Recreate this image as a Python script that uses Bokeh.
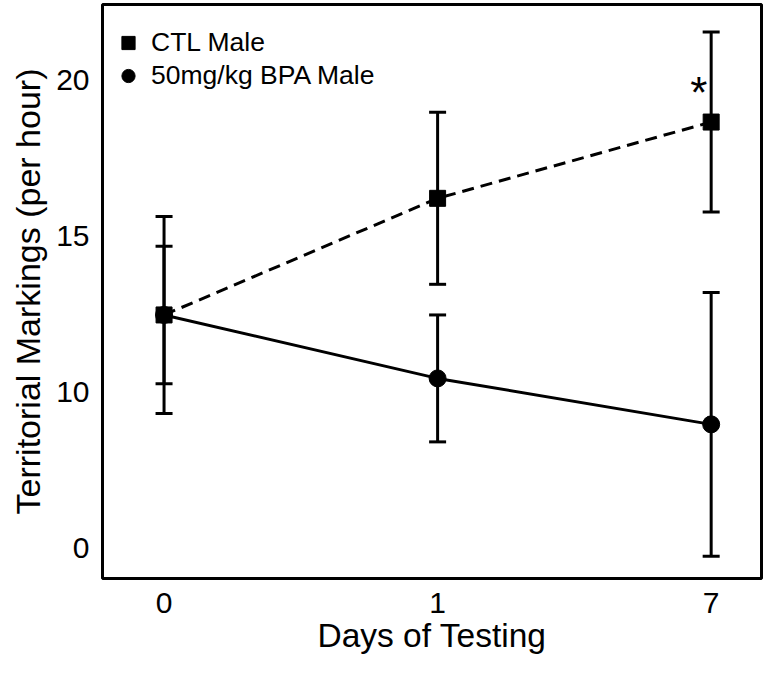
from bokeh.plotting import figure
from bokeh.models import (ColumnDataSource, Whisker, TeeHead, FixedTicker, Legend,
                          LegendItem, Label, Range1d, Title)
from bokeh.embed import file_html
from bokeh.resources import INLINE

# ---- data ----
day_labels = ["0", "1", "7"]
day_pos = [0, 1, 2]
ctl_mean = [12.47, 16.20, 18.64]
ctl_err = [3.15, 2.75, 2.88]
bpa_mean = [12.47, 10.44, 8.97]
bpa_err = [2.20, 2.03, 4.22]
y_ticks = [5, 10, 15, 20]
y_tick_labels = ["0", "10", "15", "20"]
sig_day = [1.955]
sig_y = [19.58]

FONT = "Liberation Sans"

ctl_src = ColumnDataSource(dict(
    x=day_pos, y=ctl_mean,
    upper=[m + e for m, e in zip(ctl_mean, ctl_err)],
    lower=[m - e for m, e in zip(ctl_mean, ctl_err)]))
bpa_src = ColumnDataSource(dict(
    x=day_pos, y=bpa_mean,
    upper=[m + e for m, e in zip(bpa_mean, bpa_err)],
    lower=[m - e for m, e in zip(bpa_mean, bpa_err)]))

p = figure(width=763, height=658, output_backend="svg", toolbar_location=None,
           x_range=Range1d(-0.225, 2.184), y_range=Range1d(4.04, 22.40),
           min_border_left=100, min_border_right=2, min_border_top=4, min_border_bottom=80)

p.background_fill_color = "white"
p.border_fill_color = "white"
p.outline_line_color = "black"
p.outline_line_width = 3
p.xgrid.visible = False
p.ygrid.visible = False

# error bars
for src in (ctl_src, bpa_src):
    w = Whisker(base="x", upper="upper", lower="lower", source=src,
                line_color="black", line_width=3,
                upper_head=TeeHead(size=17, line_width=3, line_color="black"),
                lower_head=TeeHead(size=17, line_width=3, line_color="black"))
    p.add_layout(w)

p.line("x", "y", source=ctl_src, line_color="black", line_width=3, line_dash="12 7")
p.line("x", "y", source=bpa_src, line_color="black", line_width=3)
r_ctl = p.scatter("x", "y", source=ctl_src, marker="square", size=16,
                  fill_color="black", line_color="black")
r_bpa = p.scatter("x", "y", source=bpa_src, marker="circle", size=17,
                  fill_color="black", line_color="black")

# significance mark
p.add_layout(Label(x=sig_day[0], y=sig_y[0], text="*", text_font=FONT,
                   text_font_size="44px", text_align="center", text_baseline="alphabetic",
                   text_color="black"))

# axes
p.xaxis.ticker = FixedTicker(ticks=day_pos)
p.xaxis.major_label_overrides = {d: l for d, l in zip(day_pos, day_labels)}
p.yaxis.ticker = FixedTicker(ticks=y_ticks)
p.yaxis.major_label_overrides = {t: l for t, l in zip(y_ticks, y_tick_labels)}

for ax in (p.xaxis[0], p.yaxis[0]):
    ax.axis_line_color = None
    ax.major_tick_line_color = None
    ax.minor_tick_line_color = None
    ax.major_tick_out = 0
    ax.major_tick_in = 0
    ax.minor_tick_out = 0
    ax.minor_tick_in = 0
    ax.major_label_text_font = FONT
    ax.major_label_text_font_size = "30px"
    ax.major_label_text_color = "black"
    ax.axis_label_text_font = FONT
    ax.axis_label_text_font_size = "33.5px"
    ax.axis_label_text_font_style = "normal"
    ax.axis_label_text_color = "black"

p.xaxis.axis_label = "Days of Testing"
p.xaxis.major_label_standoff = 14
p.xaxis.axis_label_standoff = 1
p.yaxis.major_label_standoff = 13

# y axis title as a side title, so it can sit slightly below the frame centre
p.add_layout(Title(text="Territorial Markings (per hour)", align="center", offset=-25,
                   standoff=13, text_font=FONT, text_font_size="34px",
                   text_font_style="normal", text_color="black"), "left")

legend = Legend(items=[LegendItem(label="CTL Male", renderers=[r_ctl]),
                       LegendItem(label="50mg/kg BPA Male", renderers=[r_bpa])],
                location=(9, 486), margin=0, padding=0, spacing=0,
                glyph_width=34, glyph_height=33, label_standoff=6,
                label_text_font=FONT, label_text_font_size="26.5px",
                label_text_color="black", border_line_color=None,
                background_fill_alpha=0)
p.add_layout(legend)

open("out.html", "w").write(file_html(p, INLINE))
